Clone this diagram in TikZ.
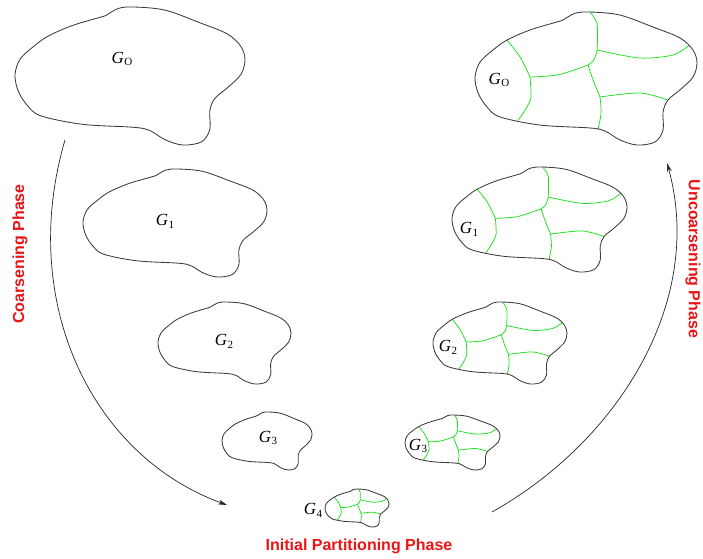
\documentclass[tikz,border=0pt]{standalone}
\usepackage{fontspec}
\setmainfont{Liberation Serif}
\newfontfamily\phasefont{Liberation Sans}
\usetikzlibrary{arrows.meta}
\definecolor{partgreen}{RGB}{30,225,30}
\definecolor{outl}{RGB}{60,60,60}
\definecolor{phasered}{RGB}{235,20,20}
\tikzset{
  outline/.style={draw=outl, line width=0.85pt},
  part/.style={draw=partgreen, line width=0.75pt},
  glabel/.style={font=\fontsize{17}{17}\selectfont\itshape, inner sep=0pt},
  phase/.style={font=\phasefont\bfseries\fontsize{16}{16}\selectfont, text=phasered, inner sep=0pt},
  flow/.style={draw=black!85, line width=0.7pt, -{Stealth[length=9pt,width=5pt]}}
}
\newcommand\glab[1]{G\kern0.5pt\raisebox{-0.35ex}{\fontsize{11}{11}\selectfont\upshape #1}}
\newcommand\blobshape[4]{%
  \begin{scope}[shift={(#1pt,-#2pt)}, x=#3pt, y=-#4pt]
    \draw[outline] plot[smooth cycle, tension=0.55] coordinates {
      (0.000,0.489) (0.023,0.376) (0.081,0.286) (0.144,0.211) (0.248,0.135)
      (0.369,0.075) (0.396,0.060) (0.450,0.010) (0.518,0.000) (0.653,0.023)
      (0.802,0.113) (0.923,0.195) (0.982,0.286) (1.000,0.383) (0.982,0.489)
      (0.923,0.586) (0.869,0.662) (0.847,0.752) (0.847,0.887) (0.811,0.977)
      (0.730,1.000) (0.653,0.962) (0.586,0.895) (0.518,0.872) (0.293,0.850)
      (0.113,0.789) (0.054,0.714) (0.014,0.609)};
  \end{scope}}
\newcommand\blobparts[4]{%
  \begin{scope}[shift={(#1pt,-#2pt)}, x=#3pt, y=-#4pt]
    \draw[part] plot[smooth] coordinates {(0.518,0.0) (0.55,0.09) (0.55,0.286)};
    \draw[part] plot[smooth] coordinates {(0.55,0.286) (0.536,0.36) (0.509,0.398)};
    \draw[part] plot[smooth] coordinates {(0.248,0.489) (0.369,0.474) (0.473,0.421) (0.509,0.398)};
    \draw[part] plot[smooth] coordinates {(0.144,0.211) (0.203,0.338) (0.248,0.489)};
    \draw[part] plot[smooth] coordinates {(0.248,0.489) (0.252,0.639) (0.234,0.714) (0.194,0.816)};
    \draw[part] plot[smooth] coordinates {(0.509,0.398) (0.532,0.511) (0.563,0.639)};
    \draw[part] plot[smooth] coordinates {(0.563,0.639) (0.568,0.759) (0.554,0.882)};
    \draw[part] plot[smooth] coordinates {(0.55,0.286) (0.743,0.346) (0.892,0.323) (0.965,0.250)};
    \draw[part] plot[smooth] coordinates {(0.563,0.639) (0.743,0.609) (0.869,0.662)};
  \end{scope}}
\begin{document}
\begin{tikzpicture}[x=1pt, y=-1pt]
\useasboundingbox (0,0) rectangle (703,558);
% left column (coarsening)
\blobshape{15}{7}{230}{138}
\blobshape{83}{169}{184}{108}
\blobshape{158}{302}{133}{82}
\blobshape{222}{412}{90}{58}
% right column (uncoarsening)
\blobparts{475}{12}{222}{133}
\blobshape{475}{12}{222}{133}
\blobparts{452}{167}{175}{105}
\blobshape{452}{167}{175}{105}
\blobparts{433}{302}{134}{82}
\blobshape{433}{302}{134}{82}
\blobparts{405}{415}{95}{55}
\blobshape{405}{415}{95}{55}
% bottom
\blobparts{325}{489}{64}{38}
\blobshape{325}{489}{64}{38}
% labels
\node[glabel] (l0) at (122,59) {\glab{O}};
\node[glabel] (r0) at (499,80) {\glab{O}};
\node[glabel] (l1) at (165,221) {\glab{1}};
\node[glabel] (r1) at (469,229) {\glab{1}};
\node[glabel] (l2) at (224,341) {\glab{2}};
\node[glabel] (r2) at (448,347) {\glab{2}};
\node[glabel] (l3) at (268,438) {\glab{3}};
\node[glabel] (r3) at (418,446) {\glab{3}};
\node[glabel] (g4) at (313,510) {\glab{4}};
% phase texts
\node[phase, rotate=90] (coarse) at (20,254) {Coarsening Phase};
\node[phase, rotate=-90] (uncoarse) at (693,259) {Uncoarsening Phase};
\node[phase] (init) at (359,546) {Initial Partitioning Phase};
% arrows
\coordinate (cs) at (65,140);
\coordinate (ce) at (227,505);
\coordinate (us) at (492,512);
\coordinate (ue) at (667,163);
\draw[flow] (cs) .. controls (18,300) and (90,455) .. (ce);
\draw[flow] (us) .. controls (620,440) and (705,300) .. (ue);
\end{tikzpicture}
\end{document}
